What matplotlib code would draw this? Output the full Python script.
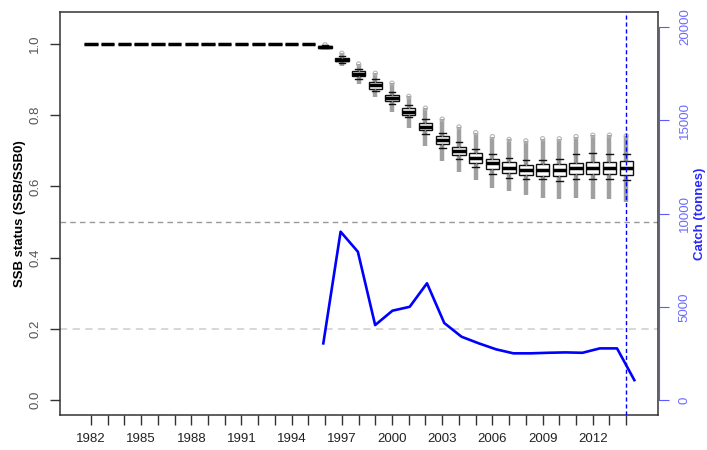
import numpy as np
import matplotlib
matplotlib.use('Agg')
import matplotlib.pyplot as plt

plt.rcParams['font.family'] = ['Liberation Sans', 'DejaVu Sans']

# SSB/SSB0 boxplot summaries, one per year
years = list(range(1982, 2015))
med = [1.0, 1.0, 1.0, 1.0, 1.0, 1.0, 1.0, 1.0, 1.0, 1.0, 1.0, 1.0, 1.0, 1.0,
       0.992, 0.956, 0.916, 0.885, 0.848, 0.810, 0.768, 0.730, 0.699, 0.681,
       0.665, 0.653, 0.645, 0.645, 0.645, 0.651, 0.651, 0.651, 0.651]
q1 = [1.0, 1.0, 1.0, 1.0, 1.0, 1.0, 1.0, 1.0, 1.0, 1.0, 1.0, 1.0, 1.0, 1.0,
      0.990, 0.951, 0.909, 0.875, 0.839, 0.801, 0.759, 0.718, 0.687, 0.667,
      0.650, 0.639, 0.631, 0.629, 0.628, 0.634, 0.634, 0.634, 0.631]
q3 = [1.0, 1.0, 1.0, 1.0, 1.0, 1.0, 1.0, 1.0, 1.0, 1.0, 1.0, 1.0, 1.0, 1.0,
      0.994, 0.960, 0.923, 0.892, 0.856, 0.820, 0.777, 0.742, 0.712, 0.693,
      0.678, 0.668, 0.659, 0.662, 0.662, 0.665, 0.668, 0.668, 0.671]
whislo = [1.0, 1.0, 1.0, 1.0, 1.0, 1.0, 1.0, 1.0, 1.0, 1.0, 1.0, 1.0, 1.0, 1.0,
          0.988, 0.946, 0.901, 0.868, 0.831, 0.794, 0.748, 0.707, 0.676, 0.655,
          0.636, 0.625, 0.620, 0.620, 0.615, 0.622, 0.622, 0.622, 0.618]
whishi = [1.0, 1.0, 1.0, 1.0, 1.0, 1.0, 1.0, 1.0, 1.0, 1.0, 1.0, 1.0, 1.0, 1.0,
          0.996, 0.967, 0.931, 0.901, 0.864, 0.828, 0.789, 0.751, 0.725, 0.706,
          0.690, 0.681, 0.674, 0.674, 0.676, 0.690, 0.693, 0.690, 0.690]
# range covered by the outlying simulations
out_lo = [1.0, 1.0, 1.0, 1.0, 1.0, 1.0, 1.0, 1.0, 1.0, 1.0, 1.0, 1.0, 1.0, 1.0,
          0.986, 0.937, 0.887, 0.850, 0.810, 0.763, 0.715, 0.671, 0.640, 0.618,
          0.596, 0.587, 0.575, 0.568, 0.566, 0.568, 0.566, 0.565, 0.555]
out_hi = [1.0, 1.0, 1.0, 1.0, 1.0, 1.0, 1.0, 1.0, 1.0, 1.0, 1.0, 1.0, 1.0, 1.0,
          0.998, 0.974, 0.944, 0.918, 0.890, 0.853, 0.820, 0.789, 0.767, 0.751,
          0.740, 0.732, 0.728, 0.734, 0.734, 0.740, 0.744, 0.744, 0.742]

# catch series
catch_years = list(range(1996, 2015))
catch = [3040, 9025, 7950, 4020, 4790, 5000, 6260, 4130, 3395, 3040,
         2720, 2505, 2505, 2535, 2555, 2535, 2770, 2770, 1070]

year_labels = [1982, 1985, 1988, 1991, 1994, 1997, 2000, 2003, 2006, 2009, 2012]
ssb_ticks = [0.0, 0.2, 0.4, 0.6, 0.8, 1.0]
catch_ticks = [0, 5000, 10000, 15000, 20000]
proj_start = 2014

fig = plt.figure(figsize=(7.07, 4.5), dpi=100)
rect = [60 / 707, 35 / 450, 598 / 707, 403 / 450]
ax = fig.add_axes(rect)

# reference lines
ax.axhline(0.5, color='#999999', ls=(0, (4, 3)), lw=1, zorder=0)
ax.axhline(0.2, color='#d4d4d4', ls=(0, (4, 3)), lw=1.3, zorder=0)

# outliers as a grey band behind each box
ax.vlines(years, out_lo, out_hi, color='#a0a0a0', lw=3.2, zorder=1)
yrs_o = [y for y, a, b in zip(years, out_hi, whishi) if a > b]
hi_o = [a for a, b in zip(out_hi, whishi) if a > b]
ax.scatter(yrs_o, hi_o, s=9, facecolors='none', edgecolors='#b5b5b5', lw=0.8, zorder=1)

stats = [dict(med=m, q1=a, q3=b, whislo=lo, whishi=hi, fliers=[])
         for m, a, b, lo, hi in zip(med, q1, q3, whislo, whishi)]
ax.bxp(stats, positions=years, widths=0.8, patch_artist=True, showfliers=False,
       manage_ticks=False, capwidths=0.4,
       boxprops=dict(facecolor='white', edgecolor='#111111', lw=1.0),
       medianprops=dict(color='black', lw=2.5, solid_capstyle='butt'),
       whiskerprops=dict(color='#888888', lw=1),
       capprops=dict(color='#111111', lw=1.0))

ax.axvline(proj_start, color='#0000ff', ls=(0, (3, 2)), lw=1, zorder=3)

ax.set_xlim(1980.15, 2015.9)
ax.set_ylim(-0.042, 1.09)
ax.set_xticks(years)
ax.set_xticklabels([str(y) if y in year_labels else '' for y in years])
ax.set_yticks(ssb_ticks)
ax.set_yticklabels(['%.1f' % v for v in ssb_ticks])
ax.tick_params(direction='out', length=7, width=1, color='#333333', labelsize=9.5)
ax.tick_params(axis='x', pad=6, labelcolor='#222222')
ax.tick_params(axis='y', pad=6.5, labelcolor='#555555')
plt.setp(ax.get_yticklabels(), rotation=90, va='center')
for s in ax.spines.values():
    s.set_color('#333333')
    s.set_linewidth(1.1)
ax.set_ylabel('SSB status (SSB/SSB0)', fontsize=9.5, fontweight='bold', labelpad=2)

# catch on its own axis, right side
ax2 = fig.add_axes(rect)
ax2.patch.set_visible(False)
ax2.plot(catch_years, catch, color='#0000ff', lw=1.9)
ax2.set_xlim(1980.76, 2015.37)
ax2.set_ylim(-800, 20800)
for k in ['left', 'top', 'bottom']:
    ax2.spines[k].set_visible(False)
ax2.spines['right'].set_color('#5a5aff')
ax2.spines['right'].set_bounds(0, 20000)
ax2.spines['right'].set_position(('outward', 1))
ax2.set_xticks([])
ax2.yaxis.tick_right()
ax2.yaxis.set_label_position('right')
ax2.set_yticks(catch_ticks)
ax2.set_yticklabels([str(v) for v in catch_ticks])
ax2.tick_params(axis='y', direction='out', length=7, color='#5a5aff',
                labelcolor='#6b6bff', labelsize=9.5, pad=7)
plt.setp(ax2.get_yticklabels(), rotation=90, va='center')
ax2.set_ylabel('Catch (tonnes)', fontsize=9.5, fontweight='bold', color='#2a2aff', labelpad=2)

fig.savefig('out.png', dpi=100)
